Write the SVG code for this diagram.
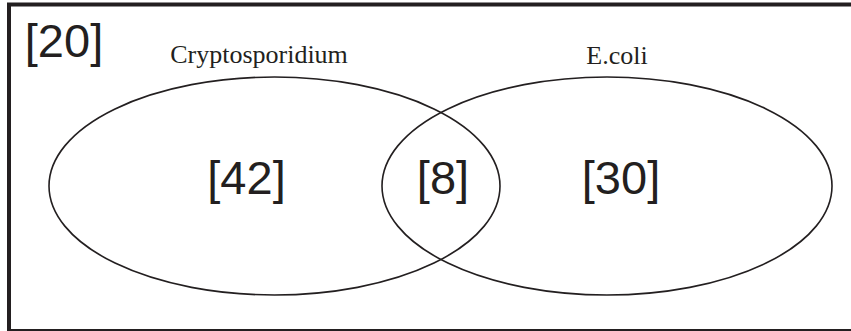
<svg xmlns="http://www.w3.org/2000/svg" width="851" height="331" viewBox="0 0 851 331">
<style>
.set{fill:none;stroke:#231f20;stroke-width:1.6}
.frame{fill:#fff;stroke:#231f20;stroke-width:4}
.num{font-family:"Liberation Sans",Arial,sans-serif;font-size:47px;fill:#231f20;text-anchor:middle}
.lbl{font-family:"Liberation Serif","Times New Roman",serif;font-size:26px;fill:#231f20;text-anchor:middle}
</style>
<rect class="frame" x="9" y="4.5" width="845" height="326.5"/>
<g id="outside">
<text class="num" x="64" y="57">[20]</text>
</g>
<g id="set-cryptosporidium">
<ellipse class="set" cx="274.5" cy="186" rx="225.5" ry="109"/>
<text class="lbl" x="259" y="63">Cryptosporidium</text>
<text class="num" x="246.5" y="194">[42]</text>
</g>
<g id="set-ecoli">
<ellipse class="set" cx="607" cy="186" rx="225" ry="109"/>
<text class="lbl" x="617" y="64">E.coli</text>
<text class="num" x="621" y="194">[30]</text>
</g>
<g id="intersection">
<text class="num" x="443" y="194">[8]</text>
</g>
</svg>
